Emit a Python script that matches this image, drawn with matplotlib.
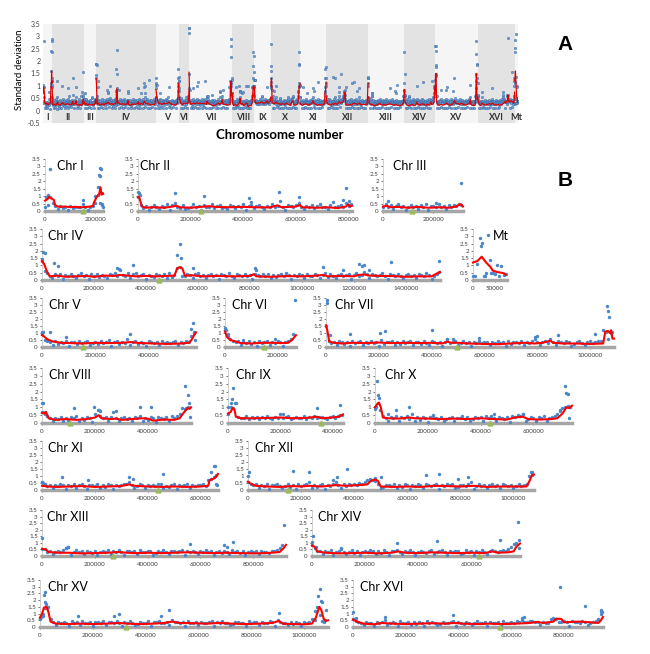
import numpy as np
import matplotlib.pyplot as plt

plt.rcParams['font.family'] = ['Lato', 'DejaVu Sans']

# bins of 10 kb along each chromosome (SD in hundredths), 5 kb for Mt
BIN = 10000
MT_BIN = 5000

chroms = ["I", "II", "III", "IV", "V", "VI", "VII", "VIII", "IX", "X",
          "XI", "XII", "XIII", "XIV", "XV", "XVI"]
lengths_kb = [230, 813, 317, 1532, 577, 270, 1091, 563, 440, 746, 667, 1078, 924, 784, 1091, 948]
centromeres_kb = [151, 238, 114, 449, 152, 148, 497, 105, 355, 436, 440, 151, 268, 628, 326, 556]
mt_length_kb = 86

sd_I = [30, 40, 95, 55, 35, 12, 32, 18, 28, 10, 33, 19, 30, 26, 30, 45, 24, 8, 30, 35, 55, 110, 55]
sd_II = [95, 40, 22, 35, 10, 30, 42, 25, 15, 33, 28, 45, 8, 38, 55, 30, 22, 40, 12, 18, 28, 44, 25, 32,
         10, 38, 30, 26, 48, 22, 35, 40, 18, 30, 12, 42, 33, 20, 36, 29, 45, 9, 31, 38, 19, 33, 40, 26,
         14, 37, 30, 44, 28, 35, 65, 25, 10, 38, 32, 27, 42, 55, 30, 12, 36, 29, 40, 18, 33, 45, 26, 30,
         11, 38, 60, 28, 35, 42, 30, 55, 35, 45]
sd_III = [30, 45, 25, 38, 12, 33, 42, 28, 35, 10, 30, 40, 25, 33, 15, 38, 29, 44, 9, 31, 36, 27, 50, 24,
          33, 12, 38, 30, 42, 35, 48, 40]
sd_IV = [130, 60, 45, 30, 12, 38, 28, 42, 10, 33, 25, 40, 30, 15, 36, 45, 27, 32, 9, 38, 29, 44, 24, 35,
         30, 12, 41, 33, 48, 26, 70, 37, 30, 45, 14, 38, 50, 28, 33, 41, 10, 36, 30, 20, 43, 35, 28, 39,
         12, 45, 24, 31, 80, 90, 30, 26, 40, 35, 11, 38, 45, 29, 33, 15, 37, 42, 28, 31, 10, 40, 35, 27,
         45, 30, 13, 38, 33, 26, 41, 29, 36, 9, 44, 32, 25, 38, 30, 42, 12, 35, 20, 33, 40, 28, 46, 31,
         10, 37, 29, 43, 33, 14, 39, 30, 26, 44, 35, 11, 32, 45, 24, 38, 30, 12, 36, 42, 27, 33, 40, 10,
         35, 48, 25, 31, 55, 38, 13, 42, 33, 26, 37, 45, 30, 9, 39, 34, 28, 41, 30, 12, 36, 44, 29, 33,
         15, 38, 31, 27, 45, 35, 10, 28, 40, 55]
sd_V = [90, 50, 40, 35, 12, 42, 22, 36, 30, 45, 10, 38, 33, 20, 41, 29, 35, 44, 12, 32, 38, 24, 40, 30,
        36, 48, 9, 33, 42, 25, 37, 30, 55, 14, 35, 40, 22, 38, 31, 10, 43, 33, 29, 36, 13, 40, 30, 35,
        26, 38, 42, 11, 33, 30, 45, 35, 80, 100]
sd_VI = [120, 80, 55, 40, 35, 45, 12, 38, 30, 42, 25, 36, 10, 40, 28, 35, 44, 14, 38, 26, 42, 33, 9, 37,
         45, 60, 90]
sd_VII = [150, 40, 30, 38, 12, 42, 33, 20, 36, 10, 45, 28, 35, 40, 14, 38, 31, 44, 27, 35, 9, 48, 25, 37,
          33, 42, 12, 36, 24, 40, 30, 35, 45, 11, 33, 38, 22, 41, 30, 13, 46, 35, 30, 39, 10, 33, 55, 30,
          38, 45, 12, 32, 40, 29, 35, 9, 37, 30, 42, 28, 33, 38, 14, 36, 30, 44, 27, 35, 10, 40, 24, 38,
          33, 29, 45, 12, 36, 26, 40, 55, 33, 11, 38, 45, 30, 60, 35, 13, 40, 33, 29, 42, 36, 10, 25, 38,
          44, 31, 12, 36, 40, 30, 35, 45, 40, 120, 110, 60, 100]
sd_VIII = [70, 60, 45, 30, 12, 35, 28, 40, 10, 33, 20, 38, 30, 45, 13, 35, 22, 40, 33, 9, 55, 80, 42, 30,
           36, 12, 38, 70, 30, 10, 35, 40, 28, 33, 14, 38, 30, 42, 11, 35, 22, 38, 30, 9, 40, 33, 28, 36,
           12, 42, 35, 45, 60, 95, 90, 100]
sd_IX = [60, 100, 95, 125, 40, 35, 30, 42, 28, 36, 33, 40, 25, 38, 30, 45, 32, 28, 40, 35, 55, 30, 38, 42,
         27, 35, 40, 30, 33, 45, 28, 38, 35, 42, 30, 36, 40, 33, 28, 38, 42, 35, 45, 50]
sd_X = [100, 130, 85, 45, 35, 12, 40, 30, 45, 10, 38, 33, 42, 28, 55, 13, 36, 22, 40, 33, 9, 38, 45, 30,
        25, 36, 12, 28, 33, 40, 10, 35, 30, 44, 27, 38, 14, 25, 40, 30, 36, 11, 42, 33, 45, 30, 12, 38,
        35, 28, 40, 9, 45, 38, 50, 42, 55, 13, 28, 36, 33, 10, 38, 30, 42, 12, 35, 40, 45, 60, 75, 95,
        100, 110, 105]
sd_XI = [55, 40, 30, 35, 12, 38, 28, 42, 33, 10, 36, 30, 40, 13, 35, 45, 30, 9, 38, 33, 27, 40, 12, 36,
         25, 42, 33, 10, 38, 30, 35, 45, 40, 55, 38, 14, 28, 42, 33, 11, 38, 30, 36, 28, 40, 45, 12, 30,
         25, 38, 42, 10, 35, 28, 33, 40, 13, 36, 27, 38, 33, 42, 30, 70, 80, 95, 110]
sd_XII = [60, 45, 35, 40, 12, 36, 30, 45, 10, 38, 33, 42, 28, 13, 30, 40, 22, 38, 9, 45, 28, 36, 40, 55,
          12, 33, 25, 38, 42, 10, 35, 28, 45, 60, 38, 14, 40, 30, 42, 35, 45, 38, 50, 40, 60, 75, 80, 70,
          65, 45, 11, 25, 38, 33, 28, 40, 12, 36, 25, 42, 33, 10, 38, 28, 45, 35, 13, 40, 33, 27, 38, 42,
          9, 36, 28, 40, 33, 45, 12, 25, 38, 36, 30, 42, 55, 10, 28, 40, 30, 36, 14, 38, 42, 30, 33, 11,
          40, 35, 30, 38, 12, 28, 42, 30, 35, 40, 100, 110]
sd_XIII = [55, 50, 30, 38, 12, 33, 40, 28, 45, 60, 70, 10, 30, 42, 28, 36, 13, 38, 30, 25, 40, 9, 28, 36,
           30, 42, 12, 38, 33, 45, 30, 10, 40, 35, 30, 38, 14, 42, 33, 28, 36, 40, 11, 25, 38, 33, 45, 30,
           12, 40, 35, 30, 38, 42, 10, 35, 30, 40, 33, 13, 38, 30, 45, 28, 36, 9, 30, 40, 25, 38, 33, 12,
           42, 30, 36, 25, 38, 10, 28, 40, 30, 35, 13, 38, 33, 30, 25, 40, 36, 42, 60, 85]
sd_XIV = [80, 60, 40, 35, 12, 38, 30, 45, 10, 33, 40, 55, 28, 13, 30, 42, 25, 38, 9, 30, 40, 28, 45, 35,
          12, 38, 25, 42, 33, 10, 40, 36, 45, 30, 14, 38, 33, 42, 28, 11, 30, 40, 33, 25, 38, 45, 12, 28,
          36, 42, 33, 10, 40, 28, 35, 38, 13, 25, 42, 33, 36, 9, 40, 30, 45, 33, 12, 38, 42, 35, 30, 38,
          45, 40, 55, 70, 90, 100]
sd_XV = [70, 100, 145, 150, 60, 35, 12, 40, 28, 36, 33, 10, 42, 30, 38, 13, 45, 33, 30, 40, 9, 38, 36, 30,
         42, 12, 35, 40, 33, 45, 30, 10, 38, 33, 42, 30, 14, 25, 40, 33, 28, 45, 11, 38, 35, 42, 28, 30,
         40, 12, 50, 40, 35, 30, 38, 10, 42, 33, 30, 36, 13, 40, 33, 28, 38, 45, 9, 35, 28, 42, 33, 30,
         12, 25, 40, 36, 30, 33, 10, 42, 30, 38, 35, 14, 40, 33, 30, 45, 38, 11, 55, 40, 33, 30, 12, 36,
         25, 38, 30, 10, 40, 28, 35, 60, 120, 150, 90, 45, 50]
sd_XVI = [60, 45, 35, 30, 12, 38, 28, 33, 10, 36, 30, 40, 55, 13, 28, 38, 30, 9, 42, 33, 30, 36, 12, 40,
          25, 38, 33, 10, 42, 28, 35, 30, 14, 25, 40, 33, 28, 36, 45, 11, 38, 33, 25, 40, 30, 12, 28, 42,
          33, 30, 38, 10, 40, 33, 28, 36, 13, 42, 33, 28, 38, 30, 45, 35, 55, 40, 38, 45, 42, 35, 40, 12,
          38, 33, 28, 60, 65, 62, 40, 35, 42, 38, 10, 45, 40, 36, 30, 42, 38, 13, 28, 36, 45, 60, 120]
sd_Mt = [25, 30, 110, 285, 255, 30, 45, 310, 135, 45, 40, 100, 30, 95, 35, 40]

# isolated high points (kb, SD)
peaks_I = [(5, 0.95), (12, 1.05), (20, 2.8), (150, 0.75), (200, 1.0), (210, 1.6), (215, 2.4), (218, 2.35),
           (220, 2.9), (222, 2.8), (225, 0.5), (226, 1.2), (228, 0.4), (230, 0.3)]
peaks_II = [(0, 1.3), (5, 1.2), (8, 1.05), (140, 1.2), (250, 1.0), (420, 0.9), (430, 0.6), (535, 1.3),
            (610, 0.95), (780, 0.75), (790, 1.55), (800, 0.65)]
peaks_III = [(20, 0.7), (60, 0.45), (210, 0.55), (310, 1.9)]
peaks_IV = [(0, 1.45), (5, 1.9), (10, 1.85), (45, 1.2), (60, 0.95), (290, 0.85), (295, 0.75), (350, 1.0),
            (520, 1.7), (530, 2.45), (535, 1.5), (580, 0.85), (820, 0.8), (822, 0.7), (1080, 0.9),
            (1160, 0.7), (1220, 1.1), (1230, 0.95), (1240, 1.0), (1260, 0.7), (1345, 1.25), (1530, 1.3)]
peaks_V = [(0, 1.1), (5, 1.05), (30, 1.05), (90, 0.7), (330, 0.95), (560, 1.3), (565, 1.7), (570, 1.1),
           (575, 0.5)]
peaks_VI = [(0, 1.35), (5, 1.2), (10, 0.9), (70, 0.5), (190, 0.55), (268, 3.35)]
peaks_VII = [(2, 3.35), (5, 3.15), (15, 0.85), (90, 0.9), (205, 1.0), (225, 1.15), (400, 1.2), (460, 0.6),
             (480, 0.6), (580, 0.65), (790, 0.75), (800, 0.8), (880, 0.85), (1020, 0.95), (1065, 2.9),
             (1070, 2.6), (1072, 2.15), (1085, 1.1)]
peaks_VIII = [(0, 1.25), (5, 1.3), (10, 0.7), (120, 0.95), (195, 1.0), (215, 0.8), (220, 0.75), (280, 0.75),
              (370, 1.0), (410, 1.0), (540, 2.35), (545, 0.95), (550, 1.8), (555, 1.3), (560, 0.4)]
peaks_IX = [(0, 1.0), (10, 1.25), (15, 1.55), (20, 2.2), (25, 1.25), (210, 0.6), (340, 0.95), (430, 1.15),
            (435, 0.5)]
peaks_X = [(0, 0.9), (5, 1.0), (8, 2.7), (12, 1.8), (15, 1.6), (50, 0.6), (80, 0.8), (130, 1.0), (220, 0.5),
           (450, 0.55), (560, 0.6), (700, 0.8), (720, 2.35), (725, 1.9), (730, 1.85), (735, 0.3), (740, 1.0)]
peaks_XI = [(0, 0.55), (5, 0.5), (75, 0.95), (175, 0.7), (330, 0.9), (345, 0.8), (460, 1.15), (640, 1.3),
            (650, 1.7), (655, 1.75), (660, 0.4), (665, 0.35)]
peaks_XII = [(0, 1.0), (5, 1.3), (170, 1.35), (230, 1.3), (320, 0.75), (335, 0.95), (375, 1.5), (480, 0.85),
             (500, 0.95), (670, 1.1), (720, 1.15), (790, 0.8), (830, 0.9), (1065, 1.3), (1070, 1.3)]
peaks_XIII = [(0, 1.35), (90, 0.6), (100, 0.7), (560, 0.9), (690, 0.8), (700, 0.7), (725, 1.05), (915, 2.35)]
peaks_XIV = [(0, 1.1), (5, 1.5), (15, 0.65), (110, 0.6), (320, 1.0), (470, 1.15), (710, 1.2), (775, 2.6),
             (780, 1.25), (782, 0.6)]
peaks_XV = [(0, 0.6), (5, 0.75), (10, 0.85), (15, 2.4), (18, 2.6), (20, 1.85), (22, 1.75), (25, 1.4),
            (145, 0.85), (280, 0.85), (300, 0.95), (460, 0.8), (490, 1.3), (905, 1.05), (1040, 0.5),
            (1055, 2.3), (1060, 2.8), (1065, 1.9), (1068, 1.85), (1075, 0.4), (1085, 1.3)]
peaks_XVI = [(0, 1.1), (5, 0.6), (10, 0.65), (120, 0.75), (380, 0.9), (640, 0.65), (650, 0.75), (785, 2.95),
             (880, 1.55), (940, 1.3), (942, 1.0), (945, 1.15)]
peaks_Mt = [(18, 2.35), (28, 0.3), (42, 0.5)]

# smoothed trend (kb, SD)
trend_I = [(0, 0.7), (10, 0.8), (15, 0.95), (25, 0.85), (35, 0.75), (40, 0.4), (50, 0.3), (60, 0.28),
           (80, 0.3), (100, 0.26), (120, 0.28), (140, 0.25), (160, 0.27), (180, 0.3), (190, 0.35),
           (195, 0.6), (205, 0.95), (215, 1.15), (220, 1.6), (224, 1.1), (228, 1.2), (230, 1.15)]
trend_II = [(0, 0.95), (5, 0.9), (15, 0.3), (30, 0.22), (60, 0.25), (100, 0.22), (130, 0.3), (145, 0.35),
            (160, 0.25), (200, 0.22), (240, 0.28), (270, 0.32), (300, 0.27), (350, 0.25), (400, 0.28),
            (450, 0.25), (500, 0.24), (530, 0.38), (545, 0.25), (600, 0.3), (615, 0.4), (625, 0.25),
            (680, 0.22), (720, 0.25), (760, 0.2), (790, 0.3), (800, 0.45), (805, 0.3), (813, 0.35)]
trend_III = [(0, 0.3), (15, 0.35), (30, 0.25), (60, 0.28), (100, 0.22), (140, 0.27), (180, 0.22),
             (220, 0.25), (260, 0.22), (290, 0.3), (300, 0.42), (310, 0.45), (317, 0.3)]
trend_IV = [(0, 1.3), (8, 1.1), (20, 0.55), (30, 0.25), (60, 0.3), (90, 0.22), (130, 0.25), (170, 0.28),
            (200, 0.22), (240, 0.3), (280, 0.28), (300, 0.35), (330, 0.3), (360, 0.25), (400, 0.28),
            (440, 0.25), (480, 0.28), (510, 0.3), (520, 0.8), (530, 0.88), (540, 0.8), (550, 0.3),
            (580, 0.32), (620, 0.25), (680, 0.28), (740, 0.25), (800, 0.28), (815, 0.4), (825, 0.25),
            (880, 0.22), (940, 0.27), (1000, 0.25), (1060, 0.3), (1080, 0.35), (1100, 0.25), (1160, 0.28),
            (1200, 0.25), (1220, 0.35), (1240, 0.38), (1260, 0.3), (1300, 0.28), (1350, 0.27), (1400, 0.22),
            (1450, 0.25), (1500, 0.25), (1520, 0.45), (1532, 0.55)]
trend_V = [(0, 0.85), (8, 0.75), (20, 0.55), (40, 0.4), (70, 0.3), (110, 0.28), (150, 0.25), (200, 0.3),
           (250, 0.28), (300, 0.3), (330, 0.35), (370, 0.28), (420, 0.25), (470, 0.22), (520, 0.25),
           (550, 0.3), (560, 0.5), (570, 0.85), (577, 1.05)]
trend_VI = [(0, 1.1), (8, 0.7), (20, 0.5), (40, 0.4), (60, 0.28), (100, 0.25), (140, 0.3), (180, 0.3),
            (220, 0.28), (240, 0.3), (255, 0.5), (270, 0.85)]
trend_VII = [(0, 1.55), (5, 1.2), (12, 0.4), (30, 0.3), (60, 0.25), (100, 0.3), (150, 0.28), (200, 0.32),
             (250, 0.28), (300, 0.3), (350, 0.28), (400, 0.3), (440, 0.25), (460, 0.38), (475, 0.3),
             (500, 0.3), (540, 0.25), (600, 0.22), (650, 0.2), (700, 0.25), (750, 0.3), (790, 0.25),
             (820, 0.3), (850, 0.45), (860, 0.3), (900, 0.25), (950, 0.25), (1000, 0.22), (1050, 0.25),
             (1058, 1.1), (1068, 1.15), (1075, 1.0), (1080, 1.2), (1085, 0.6), (1091, 0.6)]
trend_VIII = [(0, 0.65), (8, 0.6), (15, 0.7), (25, 0.3), (50, 0.2), (90, 0.25), (130, 0.2), (170, 0.25),
              (200, 0.35), (215, 0.5), (225, 0.3), (260, 0.25), (280, 0.28), (300, 0.2), (340, 0.25),
              (380, 0.3), (400, 0.28), (420, 0.15), (460, 0.22), (500, 0.2), (520, 0.3), (535, 0.65),
              (550, 0.95), (558, 0.9), (563, 1.0)]
trend_IX = [(0, 0.6), (10, 0.7), (18, 0.95), (25, 0.85), (30, 0.4), (50, 0.3), (100, 0.3), (150, 0.32),
            (200, 0.35), (250, 0.3), (300, 0.32), (340, 0.4), (360, 0.3), (400, 0.35), (425, 0.4), (440, 0.55)]
trend_X = [(0, 1.0), (8, 1.2), (15, 1.3), (22, 1.0), (30, 0.35), (50, 0.3), (90, 0.28), (130, 0.35),
           (150, 0.3), (200, 0.28), (250, 0.25), (300, 0.28), (350, 0.25), (400, 0.3), (450, 0.25),
           (500, 0.22), (530, 0.35), (560, 0.4), (580, 0.25), (620, 0.22), (670, 0.25), (690, 0.3),
           (710, 0.6), (725, 1.0), (735, 0.95), (746, 1.1)]
trend_XI = [(0, 0.3), (20, 0.25), (60, 0.22), (100, 0.25), (150, 0.28), (200, 0.22), (250, 0.25),
            (300, 0.28), (330, 0.4), (350, 0.3), (400, 0.25), (450, 0.22), (500, 0.25), (550, 0.22),
            (600, 0.25), (630, 0.3), (635, 0.7), (650, 0.8), (660, 0.95), (667, 1.15)]
trend_XII = [(0, 0.6), (10, 0.45), (30, 0.3), (70, 0.25), (120, 0.22), (170, 0.28), (200, 0.25), (230, 0.3),
             (280, 0.25), (330, 0.35), (370, 0.3), (420, 0.35), (450, 0.4), (460, 0.6), (470, 0.7),
             (480, 0.75), (490, 0.65), (500, 0.25), (550, 0.22), (600, 0.25), (650, 0.22), (700, 0.3),
             (750, 0.28), (800, 0.25), (850, 0.3), (900, 0.22), (950, 0.25), (1000, 0.25), (1050, 0.25),
             (1060, 0.6), (1070, 1.05), (1078, 1.1)]
trend_XIII = [(0, 0.55), (15, 0.5), (25, 0.3), (60, 0.25), (100, 0.25), (150, 0.2), (200, 0.22), (250, 0.25),
              (290, 0.3), (320, 0.25), (360, 0.22), (400, 0.25), (450, 0.22), (500, 0.25), (550, 0.28),
              (600, 0.25), (650, 0.22), (700, 0.25), (750, 0.22), (800, 0.2), (850, 0.22), (900, 0.3),
              (915, 0.6), (924, 0.85)]
trend_XIV = [(0, 0.8), (10, 0.7), (20, 0.35), (50, 0.25), (100, 0.2), (150, 0.22), (200, 0.25), (250, 0.2),
             (300, 0.25), (325, 0.35), (350, 0.25), (400, 0.22), (450, 0.28), (500, 0.25), (550, 0.22),
             (600, 0.25), (650, 0.22), (680, 0.35), (700, 0.25), (740, 0.28), (760, 0.35), (770, 0.7),
             (784, 0.95)]
trend_XV = [(0, 0.7), (8, 1.0), (15, 1.45), (25, 1.5), (32, 1.1), (40, 0.4), (60, 0.25), (100, 0.22),
            (150, 0.25), (200, 0.22), (250, 0.25), (300, 0.3), (330, 0.25), (380, 0.22), (430, 0.25),
            (470, 0.3), (500, 0.4), (530, 0.3), (580, 0.28), (630, 0.25), (680, 0.3), (730, 0.25),
            (780, 0.22), (830, 0.25), (880, 0.3), (905, 0.45), (920, 0.25), (960, 0.22), (1000, 0.2),
            (1030, 0.25), (1045, 0.7), (1058, 1.5), (1065, 1.3), (1075, 0.6), (1082, 0.45), (1091, 0.5)]
trend_XVI = [(0, 0.55), (15, 0.4), (40, 0.25), (80, 0.2), (110, 0.3), (150, 0.25), (200, 0.22), (250, 0.25),
             (300, 0.28), (350, 0.25), (380, 0.3), (420, 0.25), (470, 0.22), (520, 0.25), (570, 0.22),
             (620, 0.25), (670, 0.3), (700, 0.38), (720, 0.3), (760, 0.4), (770, 0.62), (790, 0.6),
             (800, 0.35), (830, 0.38), (860, 0.4), (900, 0.35), (930, 0.3), (940, 0.5), (948, 0.75)]
trend_Mt = [(0, 1.2), (10, 1.3), (20, 1.6), (25, 1.4), (30, 1.2), (40, 0.9), (45, 0.65), (55, 0.55),
            (65, 0.5), (72, 0.45), (75, 0.35)]

sd_all = [sd_I, sd_II, sd_III, sd_IV, sd_V, sd_VI, sd_VII, sd_VIII, sd_IX, sd_X,
          sd_XI, sd_XII, sd_XIII, sd_XIV, sd_XV, sd_XVI]
peaks_all = [peaks_I, peaks_II, peaks_III, peaks_IV, peaks_V, peaks_VI, peaks_VII, peaks_VIII, peaks_IX,
             peaks_X, peaks_XI, peaks_XII, peaks_XIII, peaks_XIV, peaks_XV, peaks_XVI]
trend_all = [trend_I, trend_II, trend_III, trend_IV, trend_V, trend_VI, trend_VII, trend_VIII, trend_IX,
             trend_X, trend_XI, trend_XII, trend_XIII, trend_XIV, trend_XV, trend_XVI]

BLUE = "#4a86c8"
RED = "#ff0000"
GREEN = "#9bbb59"

W, H = 650, 654
fig = plt.figure(figsize=(6.5, 6.54), dpi=100)


def px_axes(left, right, top, bottom):
    return fig.add_axes([left / W, 1 - bottom / H, (right - left) / W, (bottom - top) / H])


# ---------------- panel A ----------------
axA = px_axes(43, 518, 24, 123)
names = chroms + ["Mt"]
lens = lengths_kb + [mt_length_kb]
offsets = np.concatenate([[0], np.cumsum(lens)[:-1]]) * 1000
total = sum(lens) * 1000
for i, nm in enumerate(names):
    x0 = offsets[i]
    x1 = x0 + lens[i] * 1000
    axA.axvspan(x0, x1, color="#f5f5f5" if i % 2 == 0 else "#e3e3e3", lw=0, zorder=0)
    axA.text((x0 + x1) / 2, -0.27, nm, ha="center", va="center", fontsize=6.5,
             fontweight="bold", color="#333333")
    if nm == "Mt":
        vals, bsz, pk, tr = sd_Mt, MT_BIN, peaks_Mt, trend_Mt
    else:
        vals, bsz, pk, tr = sd_all[i], BIN, peaks_all[i], trend_all[i]
    xs = list(np.arange(len(vals)) * bsz + x0) + [x0 + p[0] * 1000 for p in pk]
    ys = list(np.array(vals) / 100) + [p[1] for p in pk]
    axA.scatter(xs, ys, s=3, facecolor="#6e9fd6", edgecolor="#2f5f99", linewidths=0.3, zorder=2)
    axA.plot([x0 + t[0] * 1000 for t in tr], [t[1] for t in tr], color="#e00000", lw=0.9, zorder=3)
axA.set_xlim(0, total)
axA.set_ylim(-0.5, 3.5)
axA.set_yticks(np.arange(-0.5, 3.51, 0.5))
axA.set_yticklabels(["%g" % v for v in np.arange(-0.5, 3.51, 0.5)])
axA.set_xticks([])
for s in axA.spines.values():
    s.set_visible(False)
axA.tick_params(axis="y", length=0, labelsize=5, colors="#404040", pad=2)
fig.text(20 / W, 1 - 70 / H, "Standard deviation", rotation=90, ha="center", va="center", fontsize=7)
fig.text(280 / W, 1 - 135 / H, "Chromosome number", ha="center", va="center", fontsize=9.5,
         fontweight="bold")
fig.text(565 / W, 1 - 45 / H, "A", ha="center", va="center", fontsize=15, fontweight="bold",
         family="Liberation Sans")
fig.text(565 / W, 1 - 180 / H, "B", ha="center", va="center", fontsize=15, fontweight="bold",
         family="Liberation Sans")

# ---------------- panel B ----------------
# left, right, top(3.5), zero, title x  (pixels)
layout = {
    "I": (45, 103, 159, 211, 57), "II": (138, 352, 159, 211, 140), "III": (383, 463, 159, 211, 393),
    "IV": (42, 440, 229, 280, 48), "Mt": (473, 507, 229, 280, 493),
    "V": (42, 196, 298, 347, 49), "VI": (225, 296, 298, 347, 232), "VII": (326, 614, 298, 347, 335),
    "VIII": (42, 191, 368, 423, 49), "IX": (228, 343, 368, 423, 236), "X": (375, 572, 368, 423, 385),
    "XI": (42, 218, 441, 490, 48), "XII": (248, 534, 441, 490, 255),
    "XIII": (42, 286, 510, 556, 47), "XIV": (312, 520, 510, 556, 318),
    "XV": (40, 328, 580, 627, 48), "XVI": (353, 603, 580, 627, 360),
}


def draw_chrom(nm, vals, bsz, pk, tr, length_kb, cen_kb, step):
    l, r, t, z, tx = layout[nm]
    ax = px_axes(l, r, t, z)
    xs = list(np.arange(len(vals)) * bsz) + [p[0] * 1000 for p in pk]
    ys = list(np.array(vals) / 100) + [p[1] for p in pk]
    ax.scatter(xs, ys, s=6, color=BLUE, lw=0, zorder=3, clip_on=False)
    ax.plot([p[0] * 1000 for p in tr], [p[1] for p in tr], color=RED, lw=1.5, zorder=4, clip_on=False)
    if cen_kb is not None:
        ax.plot(cen_kb * 1000, 0, marker="^", color=GREEN, ms=3.5, zorder=5, clip_on=False)
    ax.set_xlim(0, length_kb * 1000)
    ax.set_ylim(0, 3.5)
    ax.set_yticks(np.arange(0, 3.51, 0.5))
    ax.set_yticklabels(["%g" % v for v in np.arange(0, 3.51, 0.5)])
    ticks = np.arange(0, length_kb * 1000 + 1, step)
    ax.set_xticks(ticks)
    ax.set_xticklabels([str(int(v)) for v in ticks])
    ax.spines["top"].set_visible(False)
    ax.spines["right"].set_visible(False)
    ax.spines["left"].set_color("#c8c8c8")
    ax.spines["left"].set_linewidth(0.6)
    ax.spines["bottom"].set_color("#a6a6a6")
    ax.spines["bottom"].set_linewidth(2.5)
    ax.tick_params(labelsize=4.5, colors="#404040", length=1.5, width=0.5, pad=1.5)
    ax.tick_params(axis="x", pad=3)
    fig.text(tx / W, 1 - (t + 7) / H, nm if nm == "Mt" else "Chr " + nm, ha="left", va="center",
             fontsize=9)


for i, nm in enumerate(chroms):
    draw_chrom(nm, sd_all[i], BIN, peaks_all[i], trend_all[i], lengths_kb[i], centromeres_kb[i], 200000)
draw_chrom("Mt", sd_Mt, MT_BIN, peaks_Mt, trend_Mt, 78, None, 50000)

fig.savefig("out.png", dpi=100)
